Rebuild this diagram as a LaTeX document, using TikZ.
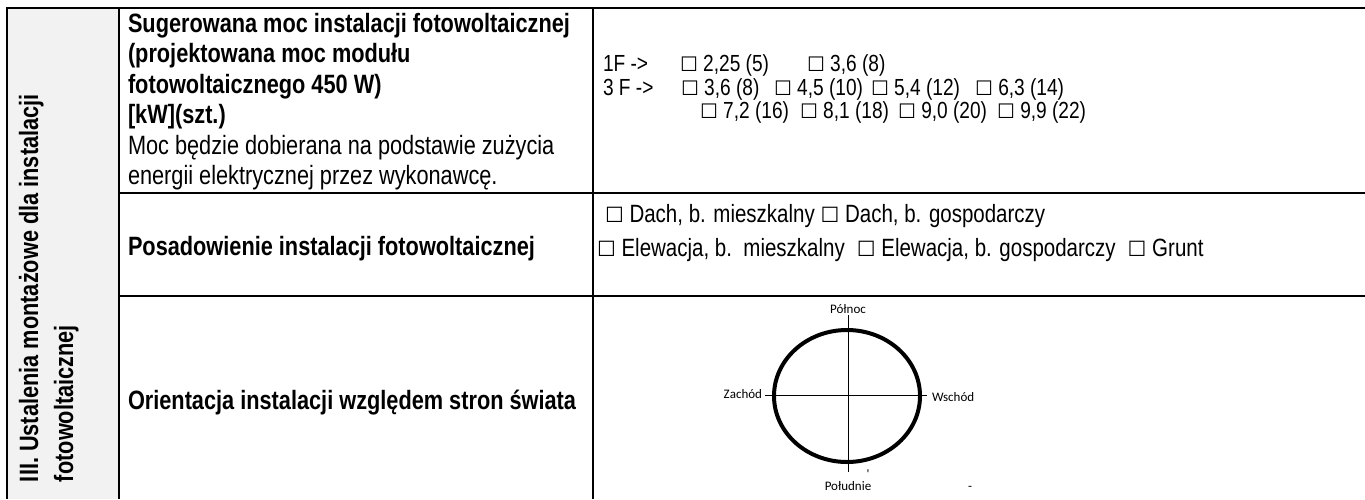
\documentclass[tikz,border=0pt]{standalone}
\usepackage{fontspec}
\usetikzlibrary{shapes.geometric}
\setmainfont{Liberation Sans}
\newfontfamily\nfont[FakeStretch=0.82]{Liberation Sans}
\newfontfamily\boxfont{DejaVu Sans}
\newfontfamily\calfont{Carlito}
\newcommand\ballot[1]{{\boxfont\fontsize{#1}{#1}\selectfont\char"2610}}
\definecolor{colgray}{HTML}{F2F2F2}
\begin{document}
\begin{tikzpicture}[x=1pt,y=-1pt,
  every node/.style={inner sep=0pt,outer sep=0pt},
  tline/.style={line width=2.6pt},
  boldtxt/.style={anchor=base west,font=\nfont\bfseries\fontsize{26.5}{30}\selectfont},
  regtxt/.style={anchor=base west,font=\nfont\fontsize{26.5}{30}\selectfont},
  titletxt/.style={anchor=base west,rotate=90,font=\nfont\bfseries\fontsize{26.5}{30}\selectfont},
  optA/.style={anchor=base west,font=\nfont\fontsize{23.3}{25}\selectfont},
  optB/.style={anchor=base west,font=\nfont\fontsize{25}{30}\selectfont},
  comp/.style={font=\calfont\fontsize{13}{15}\selectfont}]
\useasboundingbox (0,0) rectangle (1365,499);
\fill[colgray] (7,8) rectangle (119,499);
% grid
\draw[tline] (7,499) -- (7,8) -- (1365,8);
\draw[tline] (119,8) -- (119,499);
\draw[tline] (593,8) -- (593,499);
\draw[tline] (119,193) -- (1365,193);
\draw[tline] (119,296) -- (1365,296);
% left rotated title
\node[titletxt] (title1) at (38,482) {III. Ustalenia montażowe dla instalacji};
\node[titletxt] (title2) at (73,482) {fotowoltaicznej};
% row 1 left
\node[boldtxt] (l1) at (128,32.5) {Sugerowana moc instalacji fotowoltaicznej};
\node[boldtxt] (l2) at (128,62.9) {(projektowana moc modułu};
\node[boldtxt] (l3) at (128,93.3) {fotowoltaicznego 450 W)};
\node[boldtxt] (l4) at (128,123.7) {[kW](szt.)};
\node[regtxt] (l5) at (128,154.1) {Moc będzie dobierana na podstawie zużycia};
\node[regtxt] (l6) at (128,184.5) {energii elektrycznej przez wykonawcę.};
% row 1 right
\node[optA] (f1) at (603,71) {1F ->};
\node[optA] (a1) at (680,71) {\ballot{20}\ 2,25 (5)};
\node[optA] (a2) at (807,71) {\ballot{20}\ 3,6 (8)};
\node[optA] (f3) at (603,95) {3 F ->};
\node[optA] (b1) at (681,95) {\ballot{20}\ 3,6 (8)};
\node[optA] (b2) at (774,95) {\ballot{20}\ 4,5 (10)};
\node[optA] (b3) at (871,95) {\ballot{20}\ 5,4 (12)};
\node[optA] (b4) at (975,95) {\ballot{20}\ 6,3 (14)};
\node[optA] (c1) at (700,118.5) {\ballot{20}\ 7,2 (16)};
\node[optA] (c2) at (800,118.5) {\ballot{20}\ 8,1 (18)};
\node[optA] (c3) at (898,118.5) {\ballot{20}\ 9,0 (20)};
\node[optA] (c4) at (997,118.5) {\ballot{20}\ 9,9 (22)};
% row 2
\node[boldtxt] (r2l) at (128,255) {Posadowienie instalacji fotowoltaicznej};
\node[optB] (d1) at (605,222) {\ballot{21}\ Dach, b. mieszkalny \ballot{21}\ Dach, b. gospodarczy};
\node[optB] (d2) at (597,256) {\ballot{21}\ Elewacja, b.\ \ mieszkalny\hspace{12pt}\ballot{21}\ Elewacja, b. gospodarczy\hspace{12pt}\ballot{21}\ Grunt};
% row 3
\node[boldtxt] (r3l) at (128,409) {Orientacja instalacji względem stron świata};
% compass
\node[draw,ellipse,line width=4pt,minimum width=146pt,minimum height=132pt] (ring) at (847,396) {};
\coordinate (cn) at (848,315);
\coordinate (cs) at (848,472);
\coordinate (cw) at (765,395);
\coordinate (ce) at (927,395);
\draw[line width=1pt] (cn) -- (cs);
\draw[line width=1pt] (cw) -- (ce);
\node[comp] (north) at (848,309) {Północ};
\node[comp] (south) at (848,486) {Południe};
\node[comp,anchor=east] (west) at (762,394) {Zachód};
\node[comp,anchor=west] (east) at (932,397) {Wschód};
\node[comp] (tick) at (868,474) {'};
\node[comp] (dash) at (970,488) {-};
\end{tikzpicture}
\end{document}
